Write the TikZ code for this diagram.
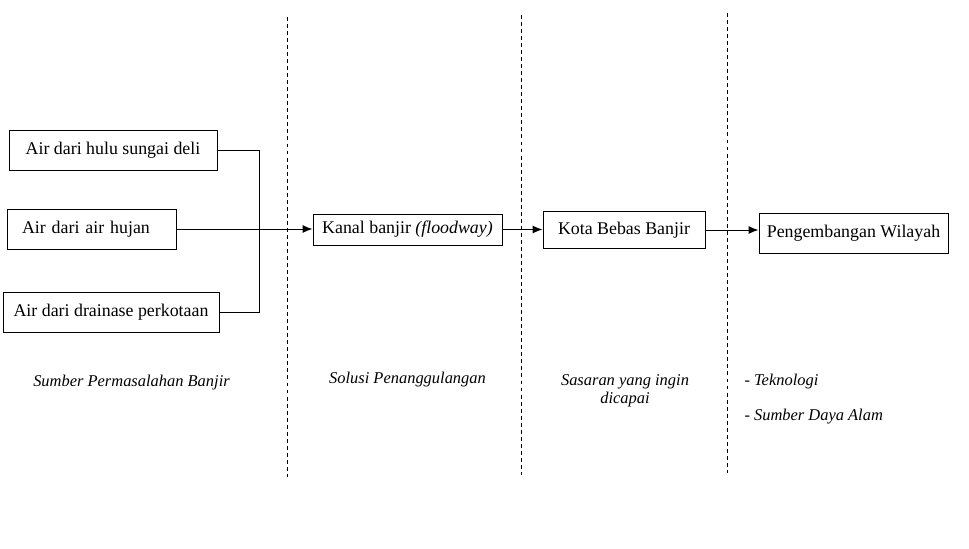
\documentclass[tikz,border=0pt]{standalone}
\usepackage{fontspec}
\setmainfont{Liberation Serif}
\usetikzlibrary{arrows.meta}

\begin{document}
\begin{tikzpicture}[>={Latex[length=2.5mm,width=2mm]},line width=0.7pt,
    kotak/.style={draw,inner sep=0pt,minimum height=1cm,font=\fontsize{12.7}{15}\selectfont},
    ket/.style={inner sep=0pt,font=\fontsize{11.7}{12.8}\selectfont\itshape}]
                \useasboundingbox (0,0) rectangle (24.225,13.7);
                \foreach \x/\a/\b in {7.175/13.275/1.775,13.025/13.325/1.825,18.175/13.375/1.875}
                    \draw[line width=0.6pt,dash pattern=on 2.8pt off 2.2pt] (\x,\a) -- (\x,\b);
                \node[kotak,minimum width=5.2cm] (hulu) at (2.825,9.95) {Air dari hulu sungai deli};
                \node[kotak,text width=3.475cm,inner xsep=0.375cm,align=left] (hujan) at (2.2875,7.975) {Air dari air hujan};
                \node[kotak,minimum width=5.4cm] (drainase) at (2.775,5.9) {Air dari drainase perkotaan};
                \node[kotak,minimum width=4.725cm,minimum height=0.775cm] (kanal) at (10.1875,7.9625) {Kanal banjir \textit{(floodway)}};
                \node[kotak,minimum width=4.05cm,minimum height=0.925cm] (kota) at (15.6,7.95) {Kota Bebas Banjir};
                \node[kotak,minimum width=4.725cm] (wilayah) at (21.3375,7.875) {Pengembangan Wilayah};
                \coordinate (sambung) at (6.475,9.95);
                \draw (hulu.east) -- (sambung) |- (drainase.east);
                \draw[->] (hujan.east) -- (hujan.east -| kanal.west);
                \draw[->] (kanal.east) -- (kanal.east -| kota.west);
                \draw[->] (kota.east) -- (kota.east -| wilayah.west);
                \node[ket] (sumber) at (3.2875,4.125) {Sumber Permasalahan Banjir};
                \node[ket] (solusi) at (10.1875,4.2) {Solusi Penanggulangan};
                \node[ket,align=center] (sasaran) at (15.625,3.925) {Sasaran yang ingin\\dicapai};
                \node[ket,anchor=west] (teknologi) at (18.6,4.15) {- Teknologi};
                \node[ket,anchor=west] (sda) at (18.6,3.275) {- Sumber Daya Alam};
            \end{tikzpicture}
\end{document}
